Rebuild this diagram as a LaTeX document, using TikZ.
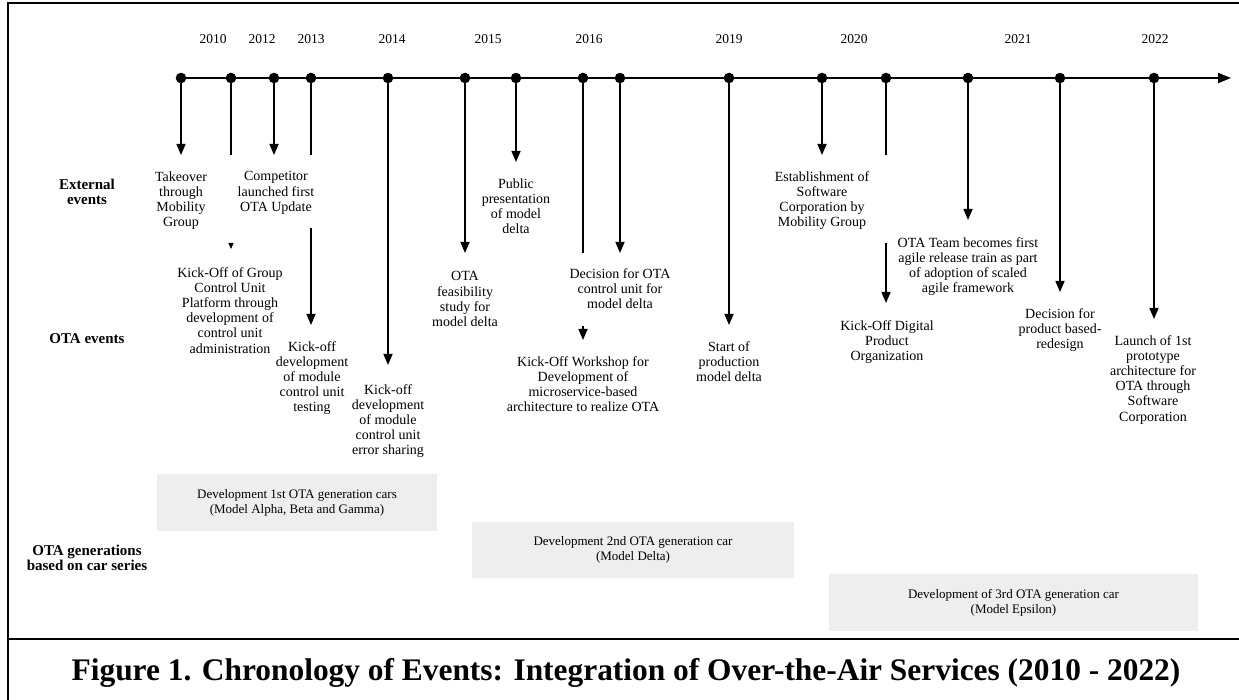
\documentclass[tikz,border=0pt]{standalone}
\usepackage{fontspec}
\setmainfont{Liberation Serif}
\usetikzlibrary{arrows.meta}
\definecolor{boxgray}{RGB}{238,238,238}
\begin{document}
\begin{tikzpicture}[x=1pt,y=-1pt,
  dot/.style={circle,fill=black,inner sep=0pt,minimum size=10.6pt},
  stem/.style={line width=1.5pt},
  arr/.style={line width=1.5pt,-{Triangle[length=11pt,width=9pt]}},
  tinyarr/.style={line width=1pt,-{Triangle[length=6pt,width=5pt]}},
  lbl/.style={align=center,anchor=north,inner sep=0pt,font=\fontsize{14}{15.1}\selectfont},
  rowlbl/.style={align=center,inner sep=0pt,font=\fontsize{15}{15.5}\selectfont\bfseries},
  yr/.style={inner sep=0pt,font=\fontsize{13.5}{15}\selectfont},
  genbox/.style={fill=boxgray,inner sep=0pt,align=center,font=\fontsize{13}{15}\selectfont},
  frame/.style={line width=2.3pt}]
\useasboundingbox (0,0) rectangle (1239,700);
% frame
\coordinate (ftl) at (8,3);
\coordinate (ftr) at (1239,3);
\coordinate (fbl) at (8,700);
\coordinate (fsl) at (8,639);
\coordinate (fsr) at (1239,639);
\draw[frame] (ftr) -- (ftl) -- (fbl);
\draw[frame] (fsl) -- (fsr);
% row labels
\node[rowlbl] (rl1) at (87,192) {External\\events};
\node[rowlbl] (rl2) at (87,339) {OTA events};
\node[rowlbl] (rl3) at (87,558) {OTA generations\\based on car series};
% years
\node[yr] (y2010) at (213,39) {2010};
\node[yr] (y2012) at (262,39) {2012};
\node[yr] (y2013) at (311,39) {2013};
\node[yr] (y2014) at (392,39) {2014};
\node[yr] (y2015) at (488,39) {2015};
\node[yr] (y2016) at (589,39) {2016};
\node[yr] (y2019) at (729,39) {2019};
\node[yr] (y2020) at (854,39) {2020};
\node[yr] (y2021) at (1018,39) {2021};
\node[yr] (y2022) at (1155,39) {2022};
% end coordinates
\coordinate (tlend) at (1231,78);
\coordinate (e1) at (181,155);
\coordinate (e2) at (231,155);
\coordinate (e2a) at (231,243);
\coordinate (e2b) at (231,249);
\coordinate (e3) at (274,155);
\coordinate (e4) at (311,155);
\coordinate (e4a) at (311,228);
\coordinate (e4b) at (311,325);
\coordinate (e5) at (388,365);
\coordinate (e6) at (465,253);
\coordinate (e7) at (516,162);
\coordinate (e8) at (583,253);
\coordinate (e8a) at (583,326);
\coordinate (e8b) at (583,340);
\coordinate (e9) at (620,253);
\coordinate (e10) at (729,325);
\coordinate (e11) at (822,155);
\coordinate (e12) at (886,155);
\coordinate (e12a) at (886,243);
\coordinate (e12b) at (886,303);
\coordinate (e13) at (968,220);
\coordinate (e14) at (1060,292);
\coordinate (e15) at (1154,319);
% dot positions
\coordinate (p1) at (181,78);
\coordinate (p2) at (231,78);
\coordinate (p3) at (274,78);
\coordinate (p4) at (311,78);
\coordinate (p5) at (388,78);
\coordinate (p6) at (465,78);
\coordinate (p7) at (516,78);
\coordinate (p8) at (583,78);
\coordinate (p9) at (620,78);
\coordinate (p10) at (729,78);
\coordinate (p11) at (822,78);
\coordinate (p12) at (886,78);
\coordinate (p13) at (968,78);
\coordinate (p14) at (1060,78);
\coordinate (p15) at (1154,78);
% timeline
\draw[line width=2pt,-{Triangle[length=13pt,width=10pt]}] (p1) -- (tlend);
% connectors
\draw[arr] (p1) -- (e1);
\draw[stem] (p2) -- (e2);
\draw[tinyarr] (e2a) -- (e2b);
\draw[arr] (p3) -- (e3);
\draw[stem] (p4) -- (e4);
\draw[arr] (e4a) -- (e4b);
\draw[arr] (p5) -- (e5);
\draw[arr] (p6) -- (e6);
\draw[arr] (p7) -- (e7);
\draw[stem] (p8) -- (e8);
\draw[arr] (e8a) -- (e8b);
\draw[arr] (p9) -- (e9);
\draw[arr] (p10) -- (e10);
\draw[arr] (p11) -- (e11);
\draw[stem] (p12) -- (e12);
\draw[arr] (e12a) -- (e12b);
\draw[arr] (p13) -- (e13);
\draw[arr] (p14) -- (e14);
\draw[arr] (p15) -- (e15);
% dots
\foreach \i in {1,...,15} {\node[dot] (d\i) at (p\i) {};}
% event labels
\node[lbl] (t1) at (181,171.5) {Takeover\\through\\Mobility\\Group};
\node[lbl] (t2) at (230,267.5) {Kick-Off of Group\\Control Unit\\Platform through\\development of\\control unit\\administration};
\node[lbl] (t3) at (276,171.5) {Competitor\\launched first\\OTA Update};
\node[lbl] (t4) at (312,341.5) {Kick-off\\development\\of module\\control unit\\testing};
\node[lbl] (t5) at (388,384) {Kick-off\\development\\of module\\control unit\\error sharing};
\node[lbl] (t6) at (465,271.5) {OTA\\feasibility\\study for\\model delta};
\node[lbl] (t7) at (516,178.5) {Public\\presentation\\of model\\delta};
\node[lbl] (t8) at (583,356.5) {Kick-Off Workshop for\\Development of\\microservice-based\\architecture to realize OTA};
\node[lbl] (t9) at (620,268.5) {Decision for OTA\\control unit for\\model delta};
\node[lbl] (t10) at (729,341.5) {Start of\\production\\model delta};
\node[lbl] (t11) at (822,171.5) {Establishment of\\Software\\Corporation by\\Mobility Group};
\node[lbl] (t12) at (887,320.5) {Kick-Off Digital\\Product\\Organization};
\node[lbl] (t13) at (968,237.5) {OTA Team becomes first\\agile release train as part\\of adoption of scaled\\agile framework};
\node[lbl] (t14) at (1060,308.5) {Decision for\\product based-\\redesign};
\node[lbl] (t15) at (1153,335.5) {Launch of 1st\\prototype\\architecture for\\OTA through\\Software\\Corporation};
% generation boxes
\node[genbox,minimum width=280pt,minimum height=57pt] (g1) at (297,502.5) {Development 1st OTA generation cars\\(Model Alpha, Beta and Gamma)};
\node[genbox,minimum width=322pt,minimum height=56pt] (g2) at (633,550) {Development 2nd OTA generation car\\(Model Delta)};
\node[genbox,minimum width=369pt,minimum height=57pt] (g3) at (1013.5,602.5) {Development of 3rd OTA generation car\\(Model Epsilon)};
% caption
\node[inner sep=0pt,anchor=base,font=\fontsize{31.4}{34}\selectfont\bfseries] (cap) at (626,680) {Figure 1. Chronology of Events: Integration of Over-the-Air Services (2010 - 2022)};
\end{tikzpicture}
\end{document}
